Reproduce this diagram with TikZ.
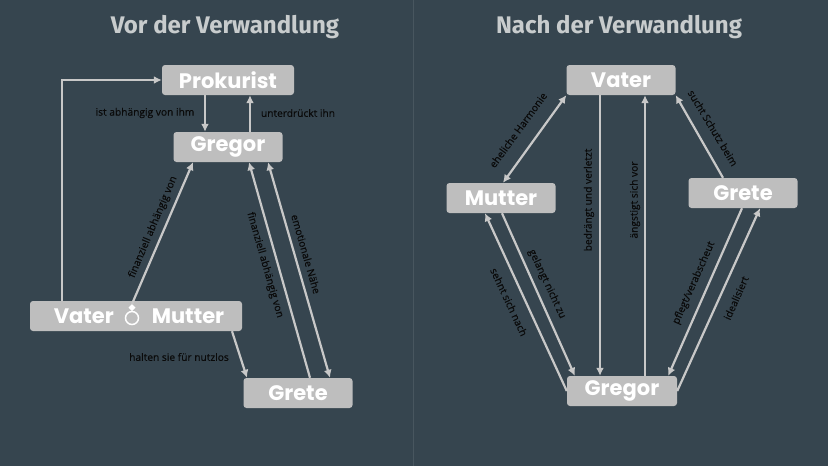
\documentclass[tikz,border=0pt]{standalone}
\usepackage{fontspec}
\setmainfont{Open Sans}
\newfontfamily\boxfont{Poppins}
\newfontfamily\titlefont{Fira Sans}
\newfontfamily\lblfont[FakeBold=0.5]{Open Sans}
\usetikzlibrary{arrows.meta}
\definecolor{bgslate}{RGB}{54,69,79}
\definecolor{boxgray}{RGB}{190,190,190}
\definecolor{linegray}{RGB}{200,200,200}
\definecolor{titlegray}{RGB}{200,204,205}
\definecolor{divgray}{RGB}{72,86,95}
\definecolor{labelink}{RGB}{10,10,10}
\tikzset{
  person/.style={fill=boxgray, rounded corners=3pt, minimum height=30pt, inner sep=0pt,
    text=white, font=\boxfont\bfseries\fontsize{21}{21}\selectfont},
  rel/.style={draw=linegray, line width=2.2pt, -{Latex[length=8pt,width=8pt]}},
  relboth/.style={rel, {Latex[length=8pt,width=8pt]}-{Latex[length=8pt,width=8pt]}},
  lbl/.style={font=\lblfont\fontsize{10.2}{10.2}\selectfont, text=labelink, inner sep=0pt},
  headline/.style={font=\titlefont\bfseries\fontsize{24}{24}\selectfont, text=titlegray}
}

\begin{document}
\begin{tikzpicture}[x=1pt,y=-1pt]
      \fill[bgslate] (0,0) rectangle (828,466);
      \useasboundingbox (0,0) rectangle (828,466);
      \draw[divgray, line width=1pt] (413,0) -- (413,466);
      % vor der Verwandlung
      \begin{scope}
        \node[headline] (t1) at (225,27) {Vor der Verwandlung};
        \node[person, minimum width=132pt] (pro) at (228,80) {Prokurist};
        \node[person, minimum width=109pt] (greg) at (228,147) {Gregor};
        \node[person, minimum width=212pt] (vm) at (136,316) {\hspace{6pt}Vater\hspace{38pt}Mutter};
        \node[person, minimum width=109pt] (gret) at (298,393) {Grete};
        \coordinate (ring) at (132,318);
        \coordinate (gem) at (132,304);
        \draw[white, line width=1.5pt] (ring) circle (6.5pt);
        \fill[white] (gem) -- (135.5,307.5) -- (132,311) -- (128.5,307.5) -- cycle;
        \draw[rel] ([xshift=-23pt]pro.south) -- ([xshift=-23pt]greg.north);
        \draw[rel] ([xshift=22pt]greg.north) -- ([xshift=22pt]pro.south);
        \draw[rel] ([xshift=-74pt]vm.north) |- (pro.west);
        \draw[rel] (gem) -- ([xshift=-35pt]greg.south);
        \draw[rel] ([xshift=96pt]vm.south) -- ([xshift=-51pt]gret.north);
        \draw[rel] ([xshift=12pt]gret.north) -- ([xshift=21pt]greg.south);
        \draw[relboth] ([xshift=32pt]gret.north) -- ([xshift=40pt]greg.south);
        \node[lbl] at (145,113) {ist abhängig von ihm};
        \node[lbl] at (298,113) {unterdrückt ihn};
        \node[lbl, rotate=67] at (153,227) {finanziell abhängig von};
        \node[lbl] at (179,357) {halten sie für nutzlos};
        \node[lbl, rotate=-74] at (265,265) {finanziell abhängig von};
        \node[lbl, rotate=-74] at (306,254) {emotionale Nähe};
      \end{scope}
      % nach der Verwandlung
      \begin{scope}[xshift=413pt]
        \node[headline] (t2) at (206,27) {Nach der Verwandlung};
        \node[person, minimum width=109pt] (vat) at (208,80) {Vater};
        \node[person, minimum width=109pt] (mut) at (88,198) {Mutter};
        \node[person, minimum width=109pt] (grt) at (330,193) {Grete};
        \node[person, minimum width=110pt] (gre) at (209,391) {Gregor};
        \draw[relboth] ([xshift=2pt]mut.north) -- (vat.south west);
        \draw[rel] ([xshift=-21pt]vat.south) -- ([xshift=-22pt]gre.north);
        \draw[rel] ([xshift=23pt]gre.north) -- ([xshift=24pt]vat.south);
        \draw[rel] ([xshift=-20pt]grt.north) -- (vat.south east);
        \draw[rel] (gre.west) -- ([xshift=-16pt]mut.south);
        \draw[rel] ([xshift=1pt]mut.south) -- ([xshift=8pt]gre.north west);
        \draw[rel] ([xshift=-1pt]grt.south) -- ([xshift=-9pt]gre.north east);
        \draw[rel] (gre.east) -- ([xshift=17pt]grt.south);
        \node[lbl, rotate=54] at (105,130) {eheliche Harmonie};
        \node[lbl, rotate=90] at (176,200) {bedrängt und verletzt};
        \node[lbl, rotate=90] at (222,200) {ängstigt sich vor};
        \node[lbl, rotate=-59] at (300,128) {sucht Schutz beim};
        \node[lbl, rotate=-65] at (96,302) {sehnt sich nach};
        \node[lbl, rotate=-65] at (134,284) {gelangt nicht zu};
        \node[lbl, rotate=66] at (281,283) {pflegt/verabscheut};
        \node[lbl, rotate=66] at (323,298) {idealisiert};
      \end{scope}
    \end{tikzpicture}
\end{document}
